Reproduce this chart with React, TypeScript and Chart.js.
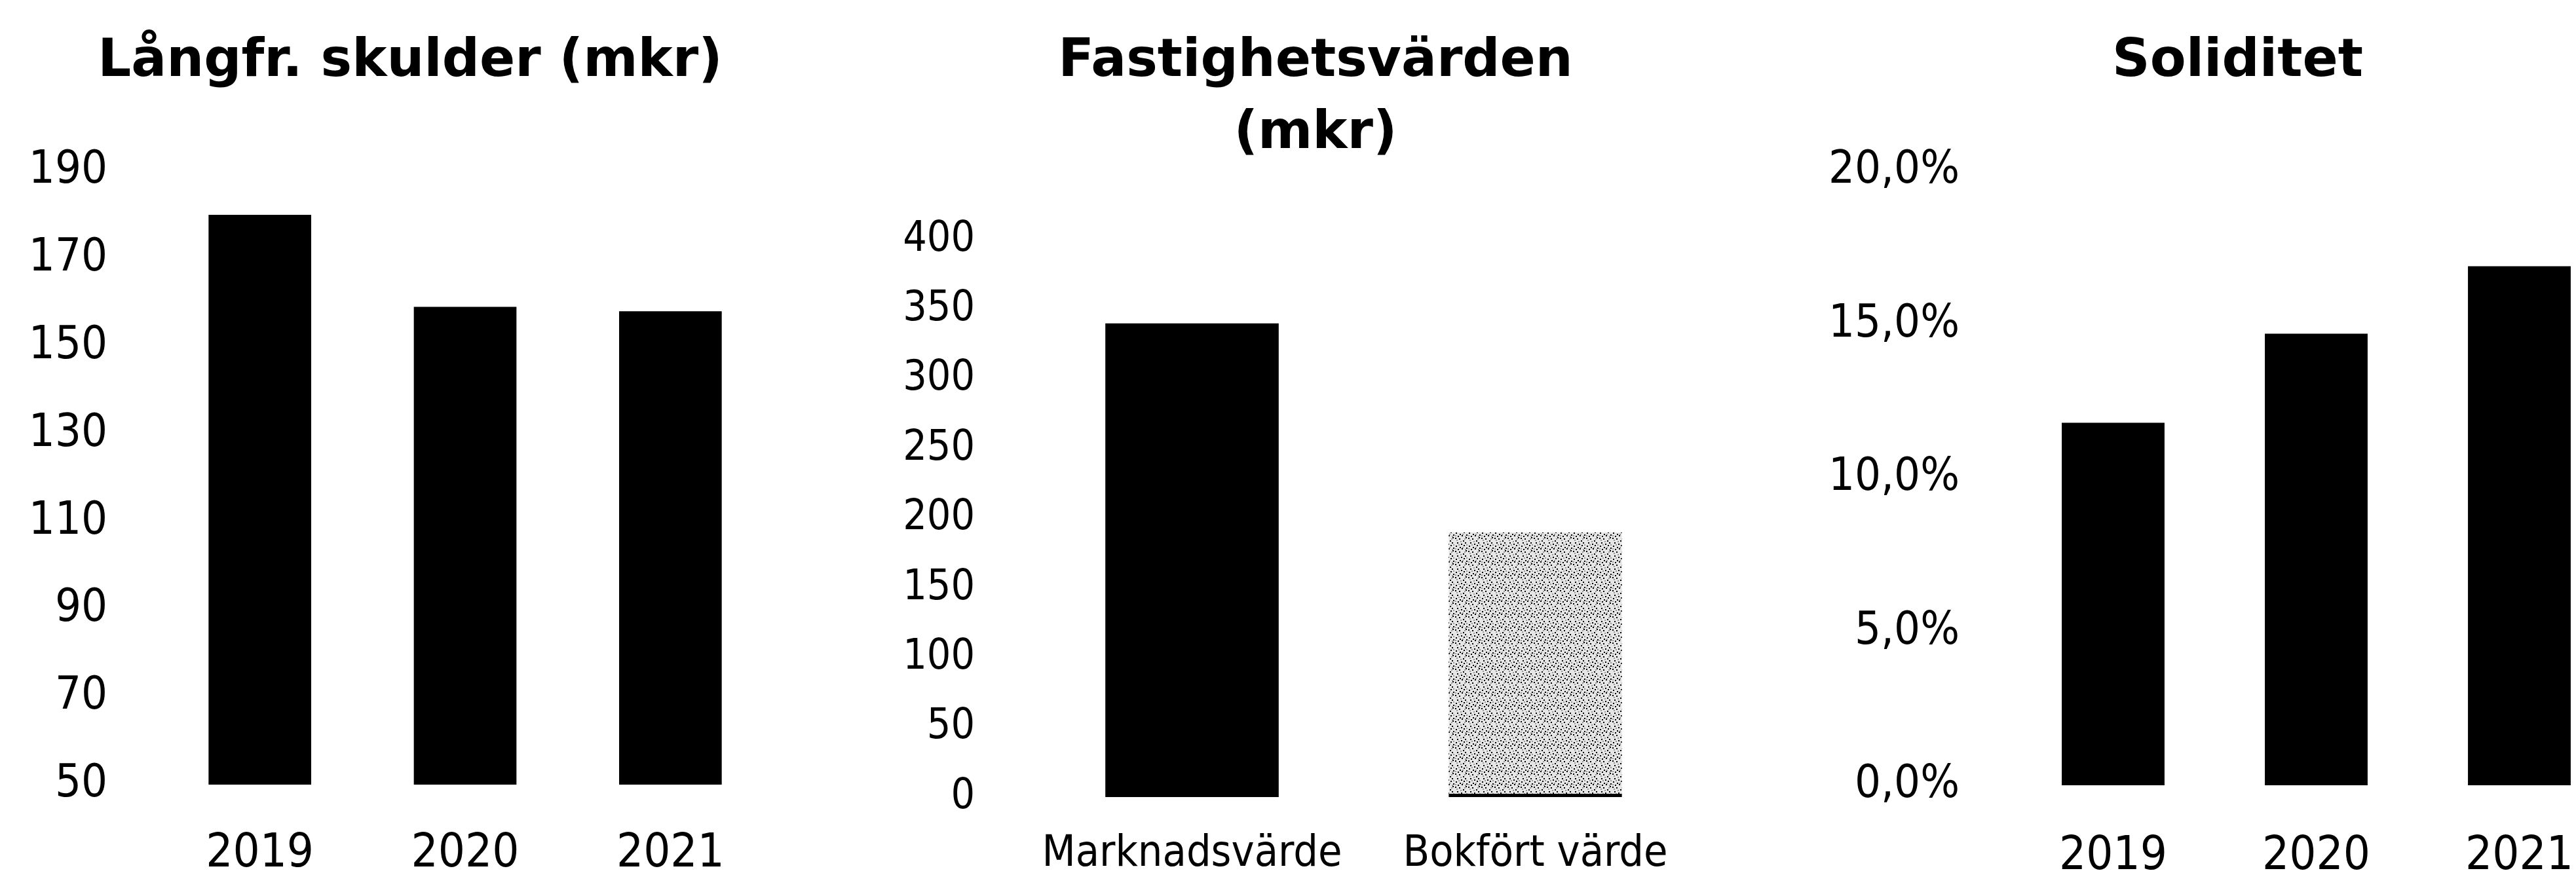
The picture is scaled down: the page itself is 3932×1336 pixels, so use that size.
import React, { useEffect, useRef } from 'react';
import { Chart, registerables } from 'chart.js';

Chart.register(...registerables);

// ---------- data ----------
const debtTitle = 'Långfr. skulder (mkr)';
const debtYears = ['2019', '2020', '2021'];
const debtValues = [180, 159, 158];
const debtAxis = [50, 190, 20]; // min, max, step

const propTitle = ['Fastighetsvärden', '(mkr)'];
const propCategories = ['Marknadsvärde', 'Bokfört värde'];
const propValues = [340, 190];
const propAxis = [0, 400, 50];

const solTitle = 'Soliditet';
const solYears = ['2019', '2020', '2021'];
const solValues = [11.8, 14.7, 16.9];
const solAxis = [0, 20, 5];

// ---------- styling helpers ----------
const TITLE_FONT = "'DejaVu Sans', sans-serif";
const TICK_FONT = "'DejaVu Sans Condensed', 'DejaVu Sans', sans-serif";

function makeSpeckle(): CanvasPattern | string {
  const c = document.createElement('canvas');
  c.width = 20;
  c.height = 20;
  const g = c.getContext('2d');
  if (!g) return '#bbbbbb';
  g.fillStyle = '#e6e6e6';
  g.fillRect(0, 0, 20, 20);
  g.fillStyle = '#9a9a9a';
  const grey = [[3, 4], [9, 6], [15, 2], [6, 11], [12, 15], [18, 11], [1, 17], [16, 18]];
  grey.forEach(([x, y]) => g.fillRect(x, y, 2, 2));
  g.fillStyle = '#000000';
  const dots = [[1, 1], [7, 2], [13, 5], [17, 0], [4, 8], [10, 10], [16, 8], [2, 13], [8, 15], [14, 12], [18, 16], [5, 18], [11, 17]];
  dots.forEach(([x, y]) => g.fillRect(x, y, 2, 2));
  return g.createPattern(c, 'repeat') || '#bbbbbb';
}

type Cfg = {
  labels: string[];
  values: number[];
  colors: any[];
  borderBottom?: number[];
  title: string | string[];
  axis: number[];
  fmt: (v: number) => string;
  padL: number;
  padR: number;
  yWidth: number;
  yTickPad: number;
  rightSpace: number;
  xHeight: number;
  xTickPad: number;
  tickSize: number;
  xSize: number;
  titleSize: number;
  titleLH: number;
  titleTop: number;
  titleBottom: number;
  barPct: number;
};

function build(canvas: HTMLCanvasElement, c: Cfg) {
  return new Chart(canvas, {
    type: 'bar',
    data: {
      labels: c.labels,
      datasets: [
        {
          data: c.values,
          yAxisID: 'y',
          xAxisID: 'x',
          backgroundColor: c.colors,
          borderColor: '#000',
          borderSkipped: false,
          borderWidth: (ctx: any) => {
            const b = c.borderBottom ? c.borderBottom[ctx.dataIndex] || 0 : 0;
            return { top: 0, left: 0, right: 0, bottom: b };
          },
          categoryPercentage: 1,
          barPercentage: c.barPct,
        } as any,
      ],
    },
    options: {
      responsive: false,
      animation: false,
      devicePixelRatio: 1,
      layout: { padding: { left: c.padL, right: c.padR, top: 0, bottom: 0 } },
      plugins: {
        legend: { display: false },
        tooltip: { enabled: false },
        title: {
          display: true,
          text: c.title,
          color: '#000',
          font: { family: TITLE_FONT, weight: 'bold', size: c.titleSize, lineHeight: c.titleLH },
          padding: { top: c.titleTop, bottom: c.titleBottom },
        },
      },
      scales: {
        x: {
          type: 'category',
          offset: true,
          grid: { display: false, drawTicks: false },
          border: { display: false },
          ticks: {
            color: '#000',
            font: { family: TICK_FONT, size: c.xSize },
            padding: c.xTickPad,
            maxRotation: 0,
            autoSkip: false,
          },
          afterFit: (s: any) => {
            s.height = c.xHeight;
          },
        },
        y: {
          type: 'linear',
          position: 'left',
          min: c.axis[0],
          max: c.axis[1],
          grid: { display: false, drawTicks: false },
          border: { display: false },
          ticks: {
            stepSize: c.axis[2],
            color: '#000',
            font: { family: TICK_FONT, size: c.tickSize },
            padding: c.yTickPad,
            callback: (v: any) => c.fmt(Number(v)),
          },
          afterFit: (s: any) => {
            s.width = c.yWidth;
          },
        },
        // empty spacer on the right so the title centres like the original
        spacer: {
          type: 'linear',
          axis: 'y',
          position: 'right',
          display: true,
          grid: { display: false, drawTicks: false },
          border: { display: false },
          ticks: { display: false },
          afterFit: (s: any) => {
            s.width = c.rightSpace;
          },
        },
      },
    } as any,
  });
}

const PAGE_W = 3932;
const PAGE_H = 1336;

export default function App() {
  const r1 = useRef<HTMLCanvasElement>(null);
  const r2 = useRef<HTMLCanvasElement>(null);
  const r3 = useRef<HTMLCanvasElement>(null);

  useEffect(() => {
    const charts: Chart[] = [];
    if (r1.current) {
      charts.push(
        build(r1.current, {
          labels: debtYears,
          values: debtValues,
          colors: debtValues.map(() => '#000'),
          title: debtTitle,
          axis: debtAxis,
          fmt: (v) => String(v),
          padL: 40,
          padR: PAGE_W - 1212,
          yWidth: 200,
          yTickPad: 76,
          rightSpace: 32,
          xHeight: 138,
          xTickPad: 63.5,
          tickSize: 70,
          xSize: 72,
          titleSize: 80,
          titleLH: 1.2,
          titleTop: 47.5,
          titleBottom: 117.5,
          barPct: 0.5,
        })
      );
    }
    if (r2.current) {
      charts.push(
        build(r2.current, {
          labels: propCategories,
          values: propValues,
          colors: ['#000', makeSpeckle()],
          borderBottom: [0, 5],
          title: propTitle,
          axis: propAxis,
          fmt: (v) => String(v),
          padL: 1372,
          padR: PAGE_W - 2644,
          yWidth: 185.5,
          yTickPad: 69.5,
          rightSpace: 38.5,
          xHeight: 119,
          xTickPad: 48,
          tickSize: 64,
          xSize: 66,
          titleSize: 80,
          titleLH: 1.375,
          titleTop: 40.5,
          titleBottom: 105.5,
          barPct: 0.505,
        })
      );
    }
    if (r3.current) {
      charts.push(
        build(r3.current, {
          labels: solYears,
          values: solValues,
          colors: solValues.map(() => '#000'),
          title: solTitle,
          axis: solAxis,
          fmt: (v) => v.toFixed(1).replace('.', ',') + '%',
          padL: 2780,
          padR: 49,
          yWidth: 290.5,
          yTickPad: 79.5,
          rightSpace: 50.5,
          xHeight: 137,
          xTickPad: 66.5,
          tickSize: 70,
          xSize: 72,
          titleSize: 80,
          titleLH: 1.2,
          titleTop: 47.5,
          titleBottom: 117.5,
          barPct: 0.506,
        })
      );
    }
    return () => charts.forEach((ch) => ch.destroy());
  }, []);

  const cs: React.CSSProperties = { position: 'absolute', left: 0, top: 0 };
  return (
    <div
      style={{
        position: 'fixed',
        left: 0,
        top: 0,
        width: PAGE_W,
        height: PAGE_H,
        overflow: 'hidden',
        background: '#ffffff',
      }}
    >
      <canvas ref={r1} width={PAGE_W} height={PAGE_H} style={cs} />
      <canvas ref={r2} width={PAGE_W} height={PAGE_H} style={cs} />
      <canvas ref={r3} width={4100} height={PAGE_H} style={cs} />
    </div>
  );
}
